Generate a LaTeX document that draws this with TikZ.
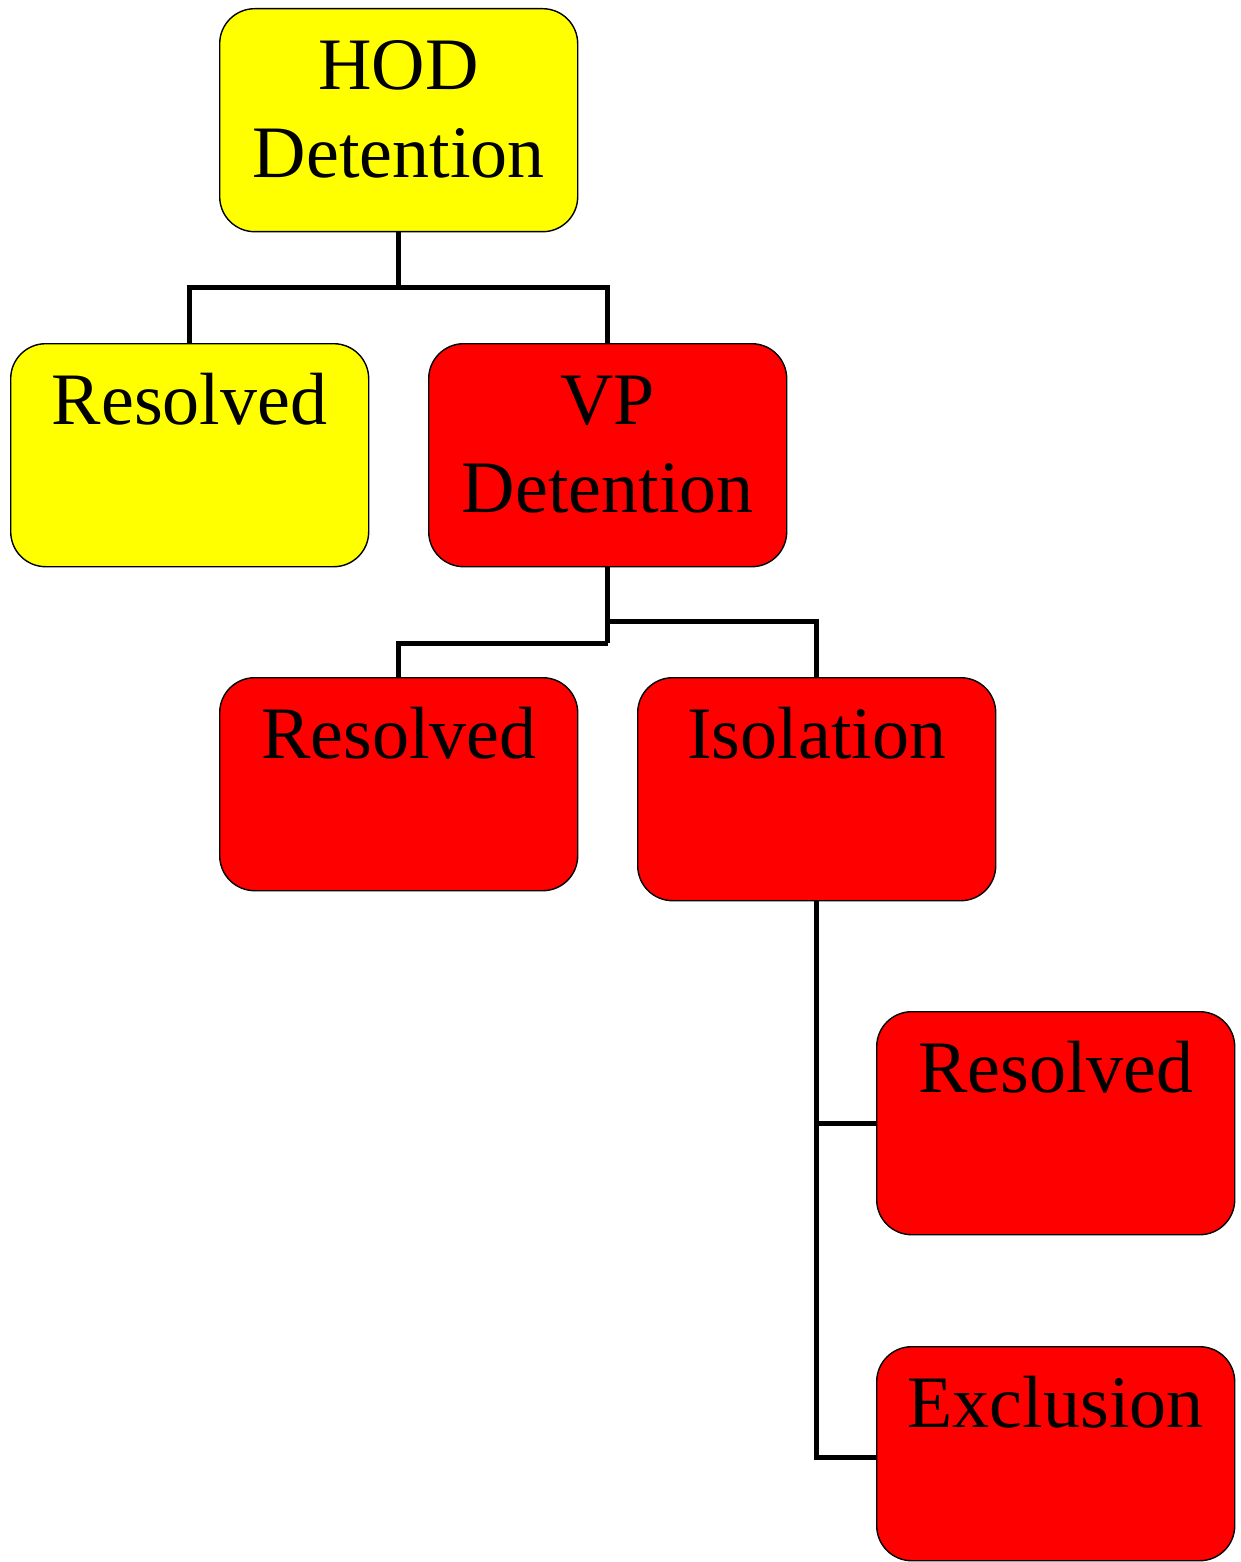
\documentclass[tikz,border=0pt]{standalone}
\usepackage{fontspec}
\setmainfont{Liberation Serif}
\usepackage{tikz}
\usetikzlibrary{positioning}

\definecolor{hodyellow}{RGB}{255,255,0}
\definecolor{vpred}{RGB}{255,0,0}

% text of a card, set from the top
\newcommand{\cardtext}[2]{\parbox[t][#1][t]{358pt}{\centering\fontsize{74}{88}\selectfont\rule{0pt}{81pt}#2}}

\tikzset{
	card/.style={draw=black, line width=1.4pt, rounded corners=35pt, inner sep=0pt, anchor=north west},
	yellowcard/.style={card, fill=hodyellow},
	redcard/.style={card, fill=vpred},
	link/.style={draw=black, line width=5pt}
}

\begin{document}
\begin{tikzpicture}[x=1pt,y=-1pt]
	\useasboundingbox (0,0) rectangle (1240,1562);

	% cards
	\node[yellowcard] (hod) at (219,8) {\cardtext{223pt}{HOD\\Detention}};
	\node[yellowcard] (res1) at (10,343) {\cardtext{223pt}{Resolved}};
	\node[redcard] (vp) at (428,343) {\cardtext{223pt}{VP\\Detention}};
	\node[redcard] (res2) at (219,677) {\cardtext{213pt}{Resolved}};
	\node[redcard] (iso) at (637,677) {\cardtext{223pt}{Isolation}};
	\node[redcard] (res3) at (876,1011) {\cardtext{223pt}{Resolved}};
	\node[redcard] (excl) at (876,1346) {\cardtext{214pt}{Exclusion}};

	% joints
	\coordinate (hodbus) at (hod.south |- 0,287);
	\coordinate (vpbus) at (vp.south |- 0,643);
	\coordinate (vpjoin) at (vp.south |- 0,621);

	% links
	\draw[link] (hod.south) -- (hodbus);
	\draw[link] (res1.north) |- (hodbus) -| (vp.north);
	\draw[link] (vp.south) -- (vpbus);
	\draw[link] (res2.north) |- (vpbus);
	\draw[link] (iso.north) |- (vpjoin);
	\draw[link] (iso.south) |- ([yshift=-4pt]excl.west);
	\draw[link] (res3.west) -- (res3.west -| iso.south);
\end{tikzpicture}
\end{document}
